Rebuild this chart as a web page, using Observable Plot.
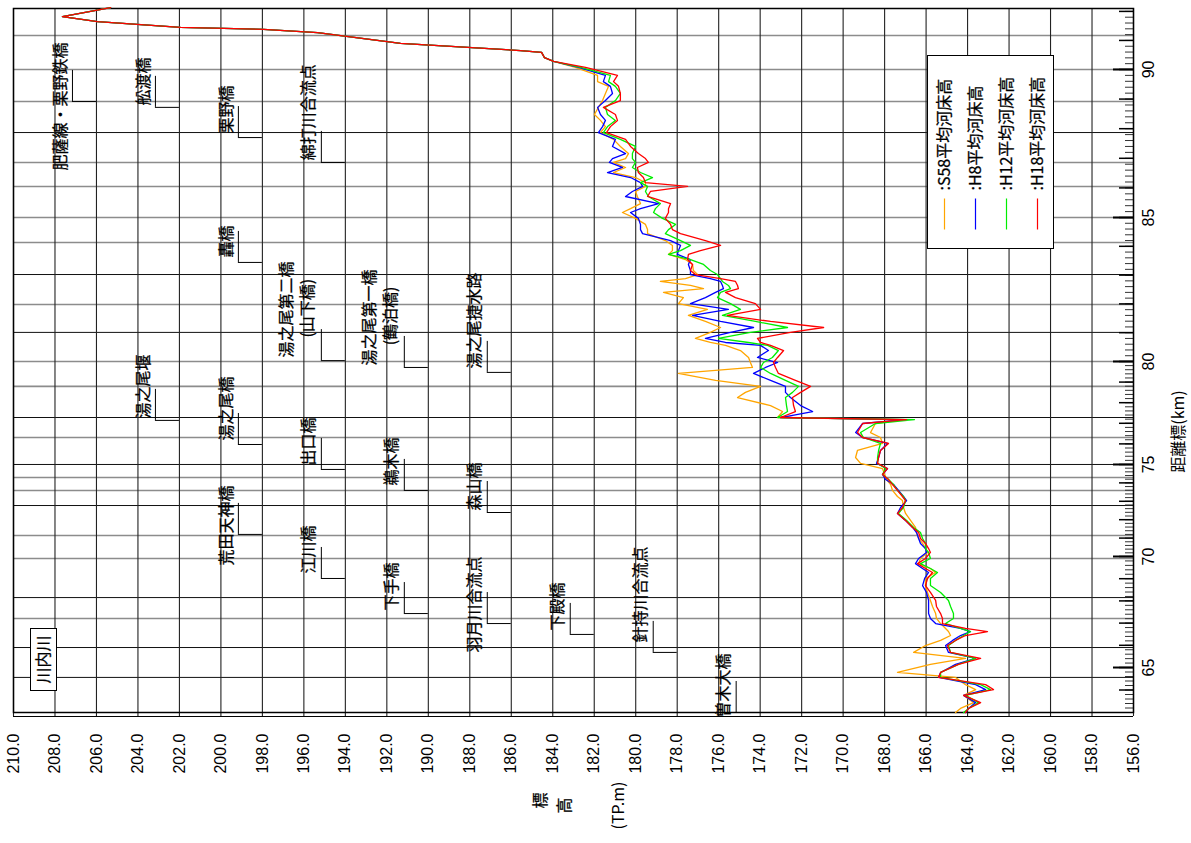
<!DOCTYPE html>
<html><head><meta charset="utf-8">
<script src="https://cdn.jsdelivr.net/npm/d3@7"></script>
<script src="https://cdn.jsdelivr.net/npm/@observablehq/plot@0.6"></script>
<style>
html,body{margin:0;padding:0;background:#fff;}
#chart svg{display:block;}
</style>
</head><body><div id="chart"></div>
<script>
// ---- series ----
const seriesNames = [":S58平均河床高", ":H8平均河床高", ":H12平均河床高", ":H18平均河床高"];
const seriesColors = ["#ffa500", "#0000ff", "#00ee00", "#ff0000"];

// distance (km) of each surveyed section
const sectionKm = [
  92.13, 91.82, 91.65, 91.45, 91.38, 91.27, 90.90, 90.65, 90.59, 90.41, 90.28, 90.07,
  89.80, 89.59, 89.43, 89.19, 88.95, 88.72, 88.48, 88.28, 88.07, 87.87, 87.64, 87.40, 87.16, 86.99, 86.86, 86.69, 86.52, 86.35, 86.18, 86.05, 85.88, 85.71, 85.47, 85.30, 85.17,
  84.97, 84.76, 84.58, 84.44, 84.20, 84.03, 83.85, 83.72, 83.54, 83.37, 83.16, 83.02, 82.88, 82.78, 82.64, 82.53, 82.40, 82.22, 82.01, 81.81, 81.60, 81.39, 81.18, 81.01, 80.80, 80.66, 80.56, 80.38, 80.14,
  79.95, 79.71, 79.42, 79.08, 78.79, 78.50, 78.25, 77.86, 77.57, 77.28, 77.18,
  76.99, 76.55, 76.31, 76.02, 75.68, 75.34, 75.05,
  74.78, 74.46, 74.18, 73.91, 73.59, 73.26, 73.04, 72.66, 72.34, 71.96, 71.58, 71.30, 70.98, 70.71, 70.43, 70.22,
  69.91, 69.68, 69.46, 69.28, 69.01, 68.69, 68.38, 68.02, 67.75, 67.43, 67.21, 66.98, 66.76, 66.62, 66.44, 66.22, 65.99, 65.68, 65.41, 65.14,
  64.78, 64.56, 64.24, 64.02, 63.76, 63.44, 63.18, 63.00
];

const bedS58 = [
  205.32, 207.64, 205.95, 201.95, 197.95, 195.34, 191.34, 185.55, 184.54, 184.40, 183.96, 182.91,
  181.84, 181.84, 181.31, 181.46, 181.60, 181.80, 181.99, 181.70, 181.46, 181.70, 181.07, 180.74, 180.35, 180.49, 181.07, 180.49, 181.07, 180.01, 179.53, 179.53, 180.01, 179.92, 179.77, 180.25, 180.64,
  180.01, 179.53, 179.43, 179.43, 178.57, 178.23, 178.23, 178.42, 177.60, 177.26, 177.22, 177.02, 177.60, 178.81, 177.36, 176.73, 178.66, 177.70, 177.94, 176.54, 177.46, 176.64, 175.91, 176.40, 177.12, 176.40, 175.67, 174.95, 174.56,
  174.47, 174.37, 177.94, 176.15, 173.98, 174.71, 175.09, 173.50, 172.92, 173.16, 167.23,
  168.44, 168.68, 168.20, 168.10, 169.31, 169.40, 169.16,
  168.10, 168.00, 167.91, 167.71, 167.62, 167.38, 167.14, 167.09, 166.99, 166.75, 166.51, 166.46, 166.36, 166.17, 166.03, 165.93,
  166.27, 166.36, 165.79, 165.54, 166.03, 166.03, 165.93, 165.79, 165.69, 165.54, 165.50, 165.30, 165.06, 164.92, 164.82, 165.30, 166.03, 166.60, 164.10, 165.79,
  167.38, 164.58, 164.10, 163.61, 164.19, 163.71, 164.34, 164.58
];
const bedH8 = [
  205.32, 207.64, 205.95, 201.95, 197.95, 195.34, 191.34, 185.55, 184.54, 184.40, 183.96, 182.76,
  181.46, 181.56, 181.22, 181.12, 181.46, 181.84, 181.70, 181.46, 181.60, 181.80, 180.98, 181.12, 180.49, 181.12, 181.27, 180.64, 181.36, 180.25, 179.77, 179.67, 180.16, 180.49, 178.90, 179.77, 180.25,
  179.87, 179.77, 179.77, 179.67, 178.32, 177.84, 177.94, 177.99, 177.36, 177.46, 177.36, 177.36, 176.40, 175.91, 175.82, 175.77, 176.15, 176.64, 177.36, 175.53, 177.26, 175.91, 174.32, 175.43, 176.64, 175.67, 173.98, 173.60, 174.13,
  173.16, 173.74, 174.32, 173.50, 172.78, 172.78, 172.54, 172.05, 171.47, 173.02, 166.99,
  169.06, 169.40, 169.06, 167.86, 168.20, 168.29, 168.39,
  167.86, 168.10, 167.95, 167.57, 167.33, 167.09, 166.94, 167.23, 167.38, 166.99, 166.65, 166.46, 166.36, 166.27, 166.03, 165.98,
  166.36, 166.51, 166.17, 165.88, 166.07, 166.17, 165.98, 165.88, 165.88, 165.88, 165.79, 165.54, 164.34, 163.86, 164.34, 164.72, 165.06, 164.92, 163.61, 164.58,
  165.30, 165.40, 163.61, 163.13, 164.19, 163.61, 163.95, 164.10
];
const bedH12 = [
  205.32, 207.64, 205.95, 201.95, 197.95, 195.34, 191.34, 185.55, 184.54, 184.40, 183.96, 182.66,
  181.22, 181.31, 180.98, 180.74, 180.98, 181.46, 181.36, 180.98, 181.36, 181.56, 180.74, 180.01, 180.16, 180.16, 180.01, 180.16, 179.77, 179.19, 179.77, 179.43, 179.53, 179.39, 178.81, 179.05, 179.14,
  178.71, 178.08, 178.42, 178.57, 177.84, 177.36, 177.84, 178.42, 177.36, 176.73, 176.40, 176.06, 175.91, 175.82, 175.53, 175.43, 175.91, 176.06, 175.43, 174.95, 175.82, 174.23, 172.68, 174.47, 176.01, 174.56, 173.64, 173.12, 173.41,
  173.84, 173.98, 173.50, 172.78, 172.15, 172.44, 172.78, 172.73, 172.68, 173.16, 166.56,
  168.44, 169.16, 169.02, 168.20, 168.29, 168.34, 168.34,
  167.95, 168.10, 167.81, 167.57, 167.38, 167.09, 166.99, 167.09, 167.33, 166.94, 166.60, 166.27, 166.17, 166.03, 166.03, 165.88,
  165.79, 166.27, 165.79, 165.45, 165.79, 165.79, 165.30, 164.92, 164.82, 164.68, 164.68, 165.06, 164.34, 163.86, 164.19, 164.58, 164.92, 164.82, 163.61, 164.44,
  165.30, 165.30, 163.37, 162.89, 164.10, 163.47, 163.95, 164.19
];
const bedH18 = [
  205.32, 207.64, 205.95, 201.95, 197.95, 195.34, 191.34, 185.55, 184.54, 184.40, 183.96, 182.42,
  180.88, 181.07, 180.83, 180.74, 180.74, 181.56, 180.98, 180.88, 181.22, 181.41, 180.49, 180.25, 179.87, 179.53, 179.39, 179.92, 179.87, 179.63, 179.53, 177.50, 179.29, 179.43, 178.32, 178.42, 178.42,
  178.57, 178.32, 178.23, 177.84, 176.64, 175.91, 176.88, 177.46, 177.50, 177.26, 177.36, 177.12, 175.91, 175.19, 175.09, 175.05, 175.67, 175.19, 174.23, 173.98, 175.58, 173.50, 170.94, 172.54, 174.13, 173.98, 173.50, 172.87, 173.16,
  173.36, 173.26, 173.12, 172.30, 171.57, 172.05, 172.44, 172.39, 172.30, 173.02, 166.94,
  169.06, 169.31, 169.06, 167.81, 168.20, 168.29, 168.34,
  167.86, 168.10, 167.81, 167.62, 167.38, 167.14, 166.99, 167.14, 167.38, 166.99, 166.65, 166.36, 166.27, 166.03, 165.88, 165.79,
  166.03, 166.41, 166.03, 165.69, 165.93, 166.03, 165.79, 165.54, 165.50, 165.30, 165.21, 165.21, 164.10, 163.04, 164.10, 164.58, 164.97, 164.82, 163.37, 164.44,
  165.30, 165.40, 163.13, 162.75, 164.19, 163.37, 163.95, 164.10
];

// ---- axes ----
const elevTicks = [210,208,206,204,202,200,198,196,194,192,190,188,186,184,182,180,178,176,174,172,170,168,166,164,162,160,158,156];
const kmLabels = [65, 70, 75, 80, 85, 90];
const kmMajorTicks = [64, 65, 66, 67, 68, 69, 70, 71, 72, 73, 74, 75, 76, 77, 78, 79, 80, 81, 82, 83, 84, 85, 86, 87, 88, 89, 90, 91, 92];
const gridKmDark = [87.87, 83.02, 81.01, 77.28, 75.00, 72.77, 68.15, 65.90, 64.56];
const gridKmGray = [91.17, 90.00, 88.92, 86.86, 86.05, 85.00, 84.13, 81.98, 80.00, 78.79, 76.31, 74.29, 73.59, 71.14, 69.91, 67.21];
// distance posts are not evenly spaced along the sheet: knots of the distance axis
const axisKmKnots = [63, 65, 70, 75, 80, 85, 90, 92.1];
const axisFracKnots = [0, 0.0639, 0.2216, 0.3523, 0.4986, 0.7031, 0.9134, 1];

// ---- landmarks (bridges / confluences) ----
const bridgeNames = ["肥薩線・栗野鉄橋", "舩渡橋", "栗野橋", "綿打川合流点", "轟橋", "湯之尾第二橋", "湯之尾第一橋", "湯之尾捷水路", "湯之尾堰", "湯之尾橋", "出口橋", "鵜木橋", "森山橋", "荒田天神橋", "江川橋", "下手橋", "羽月川合流点", "下殿橋", "針持川合流点", "曽木大橋"];
const bridgeSubNames = ["", "", "", "", "", "(山下橋)", "(鶴泊橋)", "", "", "", "", "", "", "", "", "", "", "", "", ""];
const bridgeKm = [88.92, 88.72, 87.70, 86.86, 83.44, 80.03, 79.71, 79.47, 77.14, 75.97, 74.73, 73.59, 72.39, 71.20, 69.01, 67.43, 66.98, 66.49, 65.68, 63.00];
const bridgeCol = [206, 202, 198, 194, 198, 194, 190, 186, 202, 198, 194, 190, 186, 198, 194, 190, 186, 182, 178, 174];
const bridgeLabelKm = [86.59, 88.78, 87.84, 86.93, 83.61, 80.14, 79.81, 79.66, 77.23, 76.17, 74.95, 73.86, 72.50, 69.60, 69.23, 67.57, 65.68, 66.67, 66.13, 62.78];
const bridgeSubKm = [0, 0, 0, 0, 0, 80.83, 80.56, 0, 0, 0, 0, 0, 0, 0, 0, 0, 0, 0, 0, 0];

// ---- build tables ----
const bedSeries = [bedS58, bedH8, bedH12, bedH18];
const bedData = seriesNames.flatMap((s, j) => sectionKm.map((km, i) => ({series: s, km, elev: bedSeries[j][i]})));
const bridges = bridgeNames.map((name, i) => ({name, sub: bridgeSubNames[i], km: bridgeKm[i], col: bridgeCol[i], labelKm: bridgeLabelKm[i], subKm: bridgeSubKm[i]}));
const kmToFrac = d3.scaleLinear().domain(axisKmKnots).range(axisFracKnots);
const kmMinorTicks = d3.range(63.2, 92.05, 0.2);

const jp = "'Noto Sans CJK JP', 'Noto Sans', sans-serif";
const num = "'Liberation Sans', Arial, sans-serif";
const T = {rotate: -90, lineAnchor: "middle", fill: "#000", fontSize: 16, fontFamily: jp};
const TJ = {...T, stroke: "#000", strokeWidth: 0.25};

const legendMarks = [
  Plot.frame({insetLeft: 914, insetRight: 80, insetTop: 47, insetBottom: 464, fill: "#fff", stroke: "#000", strokeWidth: 1})
];
seriesNames.forEach((s, i) => {
  legendMarks.push(Plot.frame({fill: seriesColors[i], stroke: "none", insetLeft: 930.4 + i * 31, insetRight: 188.4 - i * 31, insetTop: 190, insetBottom: 483}));
  legendMarks.push(Plot.text([s], {...TJ, frameAnchor: "top-left", dx: 931 + i * 31, dy: 182, textAnchor: "start", fontSize: 16}));
});

const chart = Plot.plot({
  width: 1191,
  height: 843,
  marginLeft: 13,
  marginRight: 58,
  marginTop: 8,
  marginBottom: 131,
  x: {domain: [210, 156], range: [13, 1133], axis: null},
  y: {transform: kmToFrac, domain: [0, 1], range: [712, 8], axis: null},
  color: {domain: seriesNames, range: seriesColors},
  style: {fontFamily: jp, fontSize: "16px", color: "#000", background: "#fff", overflow: "visible"},
  marks: [
    // grid
    Plot.ruleY(gridKmGray, {stroke: "#8c8c8c", strokeWidth: 1.6}),
    Plot.ruleY(gridKmDark, {stroke: "#111", strokeWidth: 1}),
    Plot.ruleX(elevTicks, {stroke: "#222", strokeWidth: 1.1, insetBottom: -4}),
    Plot.ruleY([63], {dy: 4, stroke: "#000", strokeWidth: 1}),
    // right-hand distance ticks
    Plot.ruleY(kmMinorTicks, {insetLeft: 1112, stroke: "#333", strokeWidth: 1}),
    Plot.ruleY(kmMajorTicks, {insetLeft: 1106, stroke: "#000", strokeWidth: 1.5}),
    Plot.ruleY(kmLabels, {insetLeft: 1100, stroke: "#000", strokeWidth: 2}),
    Plot.frame({stroke: "#000", strokeWidth: 1.5}),
    // bed profiles
    Plot.line(bedData, {x: "elev", y: "km", z: "series", stroke: "series", strokeWidth: 1.3}),
    // landmark leaders
    Plot.ruleX(bridges, {x: "col", y1: "km", y2: "km", dx: -24, insetTop: -31, stroke: "#000", strokeWidth: 1}),
    Plot.ruleY(bridges, {y: "km", x1: "col", x2: "col", insetLeft: -24, stroke: "#000", strokeWidth: 1}),
    Plot.text(bridges.filter(d => !d.sub), {...TJ, x: "col", y: "labelKm", text: "name", textAnchor: "start", dx: -36}),
    Plot.text(bridges.filter(d => d.sub), {...TJ, x: "col", y: "labelKm", text: "name", textAnchor: "start", dx: -58}),
    Plot.text(bridges.filter(d => d.sub), {...TJ, x: "col", y: "subKm", text: "sub", textAnchor: "start", dx: -37}),
    // river name box
    Plot.frame({insetLeft: 17, insetRight: 1077, insetTop: 620, insetBottom: 22, fill: "#fff", stroke: "#000", strokeWidth: 1}),
    Plot.text(["川内川"], {...TJ, frameAnchor: "bottom-left", dx: 30, dy: -53, textAnchor: "middle"}),
    // legend
    ...legendMarks,
    // axis tick labels
    Plot.text(elevTicks, {...T, x: d => d, text: d => d.toFixed(1), frameAnchor: "bottom", dy: 21, textAnchor: "end", fontFamily: num}),
    Plot.text(kmLabels, {...T, y: d => d, text: d => String(d), frameAnchor: "right", dx: 15, textAnchor: "middle", fontFamily: num}),
    // axis titles
    Plot.text(["標"], {...TJ, frameAnchor: "bottom-left", dx: 527, dy: 88, textAnchor: "middle"}),
    Plot.text(["高"], {...TJ, frameAnchor: "bottom-left", dx: 551, dy: 93, textAnchor: "middle"}),
    Plot.text(["(TP.m)"], {...T, frameAnchor: "bottom-left", dx: 605, dy: 93, textAnchor: "middle"}),
    Plot.text(["距離標(km)"], {...T, frameAnchor: "top-right", dx: 45, dy: 423, textAnchor: "middle"})
  ]
});
document.getElementById("chart").appendChild(chart);
</script>
</body></html>
